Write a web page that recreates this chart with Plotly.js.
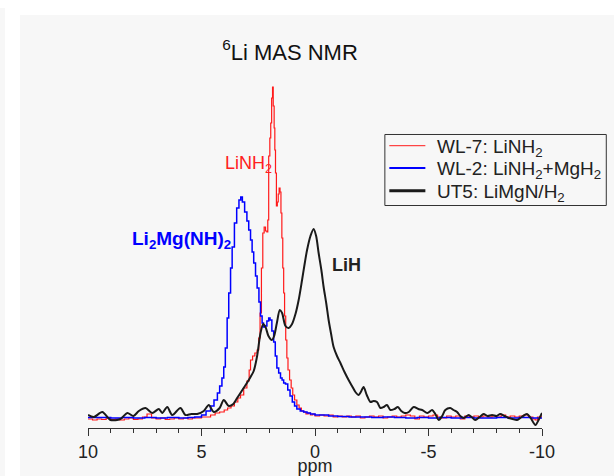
<!DOCTYPE html>
<html>
<head>
<meta charset="utf-8">
<script src="https://cdn.plot.ly/plotly-3.0.1.min.js"></script>
<style>
html,body{margin:0;padding:0;background:#ffffff;width:614px;height:476px;overflow:hidden;}
#strip{position:absolute;left:0;top:8px;width:5px;height:468px;background:#f7f7f7;}
#chart{position:absolute;left:20px;top:15px;width:594px;height:461px;}
</style>
</head>
<body>
<div id="strip"></div>
<div id="chart"></div>
<script>
// WL-7: LiNH2 (red)
const redPpm = [10,9.8,9.6,9.4,9.2,9.0,8.8,8.6,8.4,8.2,8.0,7.8,7.6,7.4,7.2,7.0,6.8,6.6,6.4,6.2,6.0,5.8,5.6,5.4,5.2,5.0,4.8,
  4.6,4.4,4.2,4.0,3.85,3.7,3.55,3.4,3.28,3.14,3.0,2.9,2.84,2.75,2.65,2.55,2.48,2.42,2.36,2.30,2.24,2.18,2.12,2.08,2.04,1.99,1.95,1.91,1.87,1.84,1.80,1.77,1.74,1.70,1.66,1.62,1.58,1.54,1.50,1.46,1.42,1.38,1.34,1.29,1.24,1.19,1.12,1.05,0.98,0.9,0.8,0.7,0.6,0.5,0.4,0.3,0.2,0.1,0.0,
  -0.2,-0.4,-0.6,-0.8,-1.0,-1.2,-1.4,-1.6,-1.8,-2.0,-2.2,-2.4,-2.6,-2.8,-3.0,-3.2,-3.4,-3.6,-3.8,-4.0,-4.2,-4.4,-4.6,-4.8,-5.0,-5.2,-5.4,-5.6,-5.8,-6.0,-6.2,-6.4,-6.6,-6.8,-7.0,-7.2,-7.4,-7.6,-7.8,-8.0,-8.2,-8.4,-8.6,-8.8,-9.0,-9.2,-9.4,-9.6,-9.7,-9.8,-10];
const redInt = [9,8,9,8.5,10,8.5,9,8,9,10,8.5,9,11,14,10,9,10,8.5,9,10,9,10,9,10,10,11,11,
  13,15,16,18,20,22,26,30,33,40,47,58,68,72,75,78,90,115,160,195,201,197,196,208,272,290,305,330,341,322,300,278,255,222,226,234,240,236,215,190,160,135,112,88,70,58,48,40,33,28,23,20,17,16,14,15,13,14,12,
  13,12,13,11,12,11,12,11,12,10,11,12,11,12,10,11,12,11,12,13,12,9,12,11,12,13,11,10,12,11,12,9,12,11,12,11,12,11,12,11,13,11,12,11,12,13,11,9,8,11,12];

// WL-2: LiNH2+MgH2 (blue)
const bluePpm = [10,9.5,9,8.5,8,7.5,7,6.5,6,5.6,5.3,5.0,4.8,4.6,4.45,4.3,4.2,4.1,4.02,3.95,3.87,3.8,3.72,3.65,3.55,3.45,3.35,3.27,3.2,3.1,3.0,2.92,2.84,2.77,2.70,2.62,2.55,2.47,2.40,2.33,2.27,2.2,2.12,2.04,1.98,1.9,1.82,1.75,1.68,1.6,1.52,1.45,1.38,1.3,1.2,1.1,1.0,0.9,0.8,0.65,0.5,0.35,0.2,0.0,-0.3,-0.6,-1.0,-1.5,-2.0,-2.5,-3,-3.5,-4,-4.5,-5,-5.5,-6,-6.5,-7,-7.5,-8,-8.5,-9,-9.5,-10];
const blueInt = [10.5,10.5,10,10.5,10,10.5,10,10.5,10,10.5,11,13,17,22,28,35,42,50,61,80,110,135,160,181,205,220,228,231,226,216,207,198,188,176,165,152,140,126,112,105,101,102,107,110,108,97,86,72,60,55,50,48,45,44,38,32,26,22,19,17,16,15,14,13,13,12,11.5,11,11,10.5,11,10.5,10,10.5,10,10.5,10,10.5,10,10,10.5,10,10.5,10,10];

// UT5: LiMgN/H2 (black)
const blackPpm = [10,9.74,9.37,9.01,8.57,8.27,8.0,7.76,7.47,7.17,6.88,6.73,6.51,6.29,5.93,5.71,5.45,5.19,4.90,4.68,4.46,4.2,4.02,3.8,3.6,3.43,3.2,3.0,2.84,2.70,2.55,2.40,2.28,2.18,2.05,1.90,1.80,1.68,1.55,1.45,1.30,1.16,1.01,0.86,0.72,0.57,0.45,0.35,0.2,0.06,-0.05,-0.16,-0.28,-0.38,-0.5,-0.6,-0.71,-0.82,-0.97,-1.12,-1.3,-1.48,-1.63,-1.78,-1.92,-2.02,-2.14,-2.28,-2.44,-2.58,-2.73,-2.88,-3.03,-3.17,-3.32,-3.5,-3.65,-3.8,-3.95,-4.13,-4.35,-4.55,-4.72,-4.95,-5.16,-5.3,-5.45,-5.6,-5.74,-5.96,-6.1,-6.26,-6.4,-6.55,-6.77,-6.9,-7.06,-7.25,-7.43,-7.6,-7.8,-8.0,-8.16,-8.35,-8.53,-8.7,-8.9,-9.1,-9.34,-9.5,-9.71,-9.85,-10];
const blackInt = [13,11,16,8,9,15,12,17,20,15,19,15,21,13,20,13,14,14,17,23,16,20,28,22,24,30,38,45,51,57,72,95,104,101,92,88,92,105,118,115,102,100,104,114,128,148,165,178,192,199,192,175,158,141,124,108,94,81,72,65,56,48,42,36,33,36,41,33,26,27,26,20,21,23,18,19,21,17,15,16,21,19,18,15,18,14,8,12,18,20,18,16,12,10,13,11,8,11,14,12,13,12,14,12,10,9,8,11,14,10,3,8,15];

const seriesNames = ['WL-7: LiNH<sub>2</sub>', 'WL-2: LiNH<sub>2</sub>+MgH<sub>2</sub>', 'UT5: LiMgN/H<sub>2</sub>'];
const seriesColors = ['#ff1a1a', '#0000ff', '#1a1a1a'];
const tickVals = [10, 5, 0, -5, -10];
const tickText = ['10', '5', '0', '-5', '-10'];
const FONT = '"Liberation Sans", Arial, sans-serif';

const data = [
  {x: redPpm, y: redInt, name: seriesNames[0], type: 'scatter', mode: 'lines',
   line: {color: seriesColors[0], width: 1.2, shape: 'hv'}},
  {x: bluePpm, y: blueInt, name: seriesNames[1], type: 'scatter', mode: 'lines',
   line: {color: seriesColors[1], width: 1.5, shape: 'hv'}},
  {x: blackPpm, y: blackInt, name: seriesNames[2], type: 'scatter', mode: 'lines',
   line: {color: seriesColors[2], width: 2, shape: 'spline', smoothing: 0.8}}
];

// legend drawn as a boxed key (paper coordinates)
const legBox = {x0: 0.6539, x1: 1.1416, y0: 0.6357, y1: 0.8386};
const legRowY = [0.8066, 0.7429, 0.6781];
const legLineX = [0.6637, 0.7431];
const legTextX = 0.7651;
const legWidths = [1, 2, 3];

const shapes = [
  {type: 'rect', xref: 'paper', yref: 'paper', x0: legBox.x0, x1: legBox.x1, y0: legBox.y0, y1: legBox.y1,
   line: {color: '#333', width: 1}, fillcolor: '#f7f7f7', layer: 'above'}
];
const annotations = [
  {x: 2.91, y: 264, xref: 'x', yref: 'y', text: 'LiNH<sub>2</sub>', showarrow: false,
   font: {size: 18, family: FONT, color: '#ff2020'}, xanchor: 'center', yanchor: 'middle'},
  {x: 5.88, y: 188, xref: 'x', yref: 'y', text: '<b>Li<sub>2</sub>Mg(NH)<sub>2</sub></b>', showarrow: false,
   font: {size: 19, family: FONT, color: '#0000ff'}, xanchor: 'center', yanchor: 'middle'},
  {x: -1.38, y: 163.5, xref: 'x', yref: 'y', text: '<b>LiH</b>', showarrow: false,
   font: {size: 18, family: FONT, color: '#222'}, xanchor: 'center', yanchor: 'middle'}
];
seriesNames.forEach((nm, i) => {
  shapes.push({type: 'line', xref: 'paper', yref: 'paper', x0: legLineX[0], x1: legLineX[1],
               y0: legRowY[i], y1: legRowY[i], line: {color: seriesColors[i], width: legWidths[i]}, layer: 'above'});
  annotations.push({x: legTextX, y: legRowY[i], xref: 'paper', yref: 'paper', text: nm, showarrow: false,
                    xanchor: 'left', yanchor: 'middle', yshift: -2, font: {size: 19, family: FONT, color: '#222'}});
});

const layout = {
  width: 594, height: 461,
  paper_bgcolor: '#f7f7f7', plot_bgcolor: '#f7f7f7',
  margin: {l: 67.5, r: 72.3, t: 63, b: 48},
  font: {family: FONT, color: '#222'},
  title: {text: '<sup>6</sup>Li MAS NMR', font: {size: 22, family: FONT, color: '#111'},
          x: 0.4545, xref: 'container', xanchor: 'center', y: 0.92, yref: 'container', yanchor: 'middle'},
  xaxis: {range: [10, -10], tickmode: 'array', tickvals: tickVals, ticktext: tickText, ticks: 'outside', ticklen: 7, tickwidth: 1,
          tickcolor: '#333', showline: true, linecolor: '#333', linewidth: 1, showgrid: false, zeroline: false,
          tickfont: {size: 18, family: FONT, color: '#222'},
          minor: {tickmode: 'linear', tick0: 0, dtick: 1, ticks: 'outside', ticklen: 4, tickcolor: '#333', showgrid: false},
          title: {text: 'ppm', font: {size: 18, family: FONT, color: '#222'}, standoff: 0}},
  yaxis: {range: [0, 350], visible: false},
  showlegend: false,
  shapes: shapes,
  annotations: annotations
};

Plotly.newPlot('chart', data, layout, {staticPlot: true, displayModeBar: false});
</script>
</body>
</html>
